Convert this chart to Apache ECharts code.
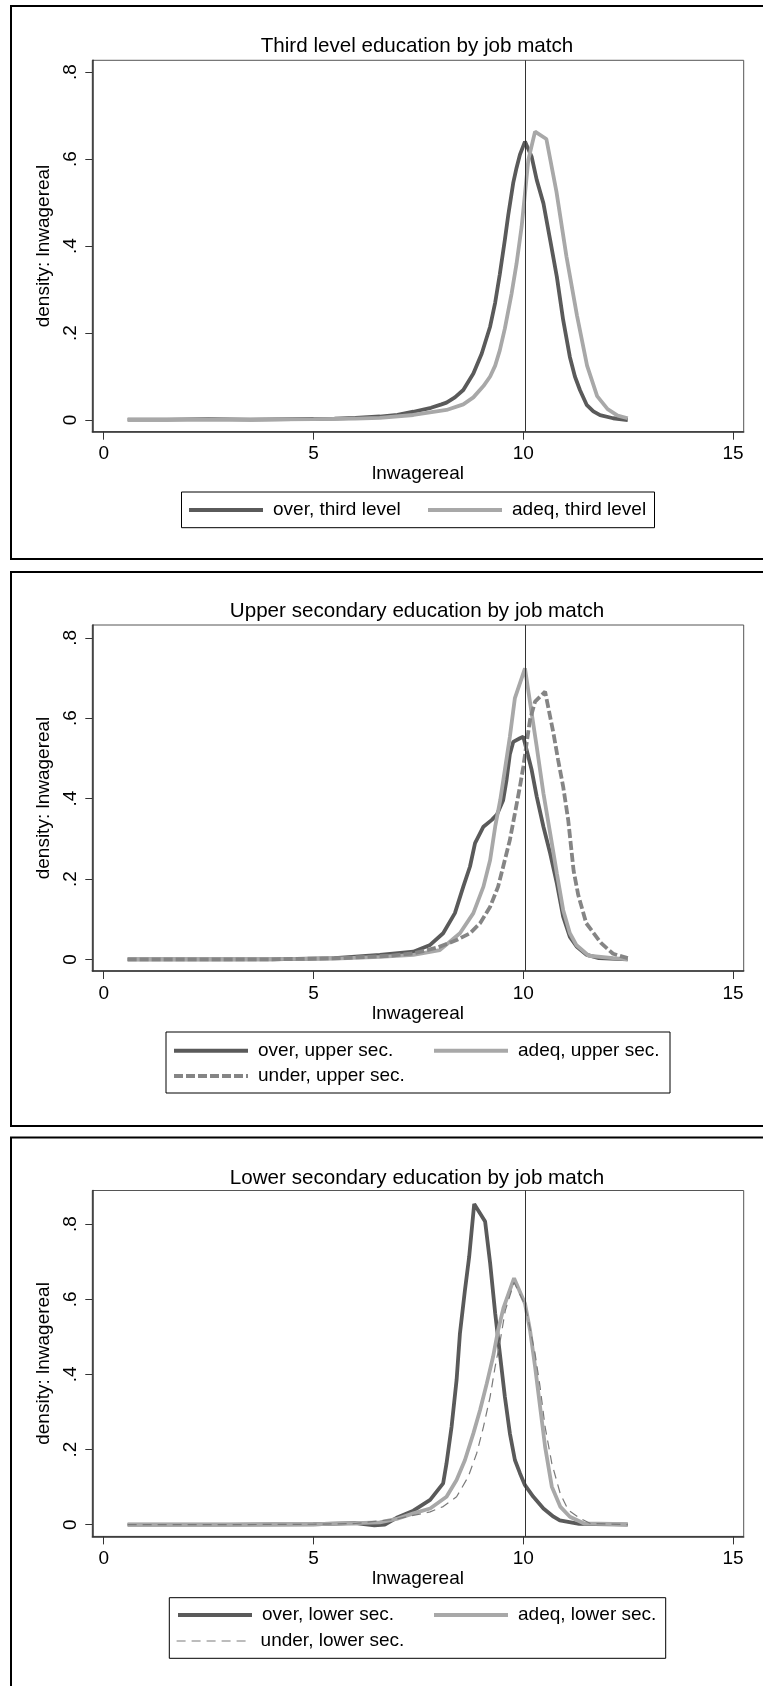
<!DOCTYPE html>
<html>
<head>
<meta charset="utf-8">
<script src="https://cdn.jsdelivr.net/npm/echarts@6.0.0/dist/echarts.min.js"></script>
<style>
html,body{margin:0;padding:0;background:#fff;}
#chartDiv{width:763px;height:1686px;}
</style>
</head>
<body>
<div id="chartDiv"></div>
<script>
var xTicks = [0, 5, 10, 15];
var yTicks = [0, 0.2, 0.4, 0.6, 0.8];
var refLine = 10.05;   // vertical line

// Third level
var overThirdX = [0.57, 1.5, 2.5, 3.5, 4.5, 5.5, 6.0, 6.58, 7.0, 7.38, 7.8, 8.05, 8.17, 8.37, 8.57, 8.81, 9.01, 9.21, 9.33, 9.44, 9.56, 9.64, 9.76, 9.84, 9.92, 10.04, 10.2, 10.32, 10.48, 10.64, 10.8, 10.95, 11.11, 11.23, 11.35, 11.51, 11.67, 11.83, 12.14, 12.49];
var overThirdY = [0.001, 0.001, 0.002, 0.001, 0.002, 0.003, 0.005, 0.008, 0.012, 0.019, 0.028, 0.036, 0.04, 0.052, 0.069, 0.107, 0.153, 0.215, 0.27, 0.335, 0.414, 0.47, 0.545, 0.58, 0.61, 0.64, 0.605, 0.552, 0.498, 0.414, 0.329, 0.23, 0.145, 0.1, 0.069, 0.035, 0.02, 0.011, 0.004, 0.0];
var adeqThirdX = [0.57, 2.0, 3.5, 5.0, 6.0, 6.58, 7.38, 8.17, 8.57, 8.81, 9.05, 9.21, 9.33, 9.44, 9.56, 9.72, 9.84, 9.96, 10.04, 10.12, 10.28, 10.55, 10.79, 11.03, 11.28, 11.52, 11.76, 12.01, 12.25, 12.49];
var adeqThirdY = [0.001, 0.001, 0.001, 0.002, 0.003, 0.005, 0.0115, 0.023, 0.036, 0.052, 0.078, 0.1, 0.125, 0.16, 0.21, 0.29, 0.36, 0.444, 0.52, 0.598, 0.663, 0.646, 0.525, 0.375, 0.24, 0.125, 0.055, 0.025, 0.01, 0.004];

// Upper secondary
var overUpperX = [0.57, 2.0, 4.0, 5.5, 6.58, 7.38, 7.78, 8.09, 8.37, 8.57, 8.73, 8.85, 9.05, 9.25, 9.37, 9.52, 9.6, 9.68, 9.76, 9.92, 10.0, 10.08, 10.2, 10.32, 10.48, 10.64, 10.8, 10.95, 11.11, 11.27, 11.5, 11.8, 12.49];
var overUpperY = [0.0, 0.0, 0.0, 0.003, 0.011, 0.019, 0.036, 0.065, 0.115, 0.181, 0.231, 0.289, 0.33, 0.347, 0.36, 0.396, 0.446, 0.51, 0.541, 0.55, 0.554, 0.521, 0.471, 0.405, 0.33, 0.264, 0.189, 0.106, 0.056, 0.032, 0.012, 0.003, 0.0];
var adeqUpperX = [0.57, 3.0, 5.5, 6.58, 7.38, 8.01, 8.49, 8.81, 9.05, 9.21, 9.33, 9.45, 9.56, 9.68, 9.8, 10.04, 10.2, 10.32, 10.48, 10.64, 10.8, 10.95, 11.11, 11.27, 11.56, 12.14, 12.49];
var adeqUpperY = [0.0, 0.0, 0.002, 0.006, 0.011, 0.023, 0.065, 0.115, 0.181, 0.247, 0.33, 0.396, 0.471, 0.554, 0.65, 0.724, 0.612, 0.529, 0.413, 0.314, 0.214, 0.123, 0.065, 0.035, 0.009, 0.003, 0.0];
var underUpperX = [0.57, 4.0, 5.65, 6.81, 7.39, 7.97, 8.41, 8.73, 8.97, 9.21, 9.4, 9.56, 9.68, 9.8, 9.92, 10.0, 10.08, 10.16, 10.28, 10.52, 10.72, 10.83, 10.95, 11.07, 11.2, 11.31, 11.5, 11.85, 12.14, 12.49];
var underUpperY = [0.0, 0.0, 0.003, 0.009, 0.015, 0.03, 0.048, 0.065, 0.09, 0.131, 0.181, 0.247, 0.297, 0.363, 0.43, 0.479, 0.538, 0.596, 0.641, 0.666, 0.562, 0.496, 0.43, 0.347, 0.22, 0.16, 0.09, 0.041, 0.014, 0.003];

// Lower secondary
var overLowerX = [0.57, 3.0, 5.0, 6.0, 6.45, 6.7, 6.98, 7.38, 7.78, 8.09, 8.17, 8.29, 8.41, 8.49, 8.61, 8.71, 8.83, 9.09, 9.21, 9.33, 9.45, 9.56, 9.68, 9.8, 9.92, 10.04, 10.24, 10.48, 10.72, 10.87, 11.33, 12.49];
var overLowerY = [0.0, 0.0, 0.001, 0.004, -0.002, 0.0, 0.018, 0.037, 0.066, 0.11, 0.163, 0.26, 0.385, 0.509, 0.625, 0.713, 0.854, 0.807, 0.696, 0.563, 0.447, 0.341, 0.243, 0.172, 0.137, 0.105, 0.074, 0.043, 0.021, 0.011, 0.002, 0.0];
var adeqLowerX = [0.57, 3.0, 5.0, 6.0, 6.58, 6.98, 7.38, 7.78, 8.17, 8.41, 8.61, 8.81, 8.97, 9.13, 9.28, 9.4, 9.53, 9.78, 10.04, 10.16, 10.28, 10.4, 10.52, 10.68, 10.88, 11.11, 11.45, 12.49];
var adeqLowerY = [0.0, 0.0, 0.001, 0.004, 0.006, 0.015, 0.03, 0.043, 0.074, 0.119, 0.172, 0.243, 0.305, 0.376, 0.447, 0.518, 0.578, 0.656, 0.589, 0.518, 0.421, 0.314, 0.207, 0.101, 0.048, 0.021, 0.003, 0.001];
var underLowerX = [0.57, 3.0, 5.0, 6.0, 6.98, 7.78, 8.09, 8.41, 8.69, 8.89, 9.05, 9.21, 9.33, 9.45, 9.57, 9.78, 10.04, 10.12, 10.28, 10.4, 10.52, 10.68, 10.88, 11.07, 11.35, 11.6, 12.49];
var underLowerY = [0.0, 0.0, 0.001, 0.003, 0.015, 0.034, 0.048, 0.074, 0.128, 0.19, 0.26, 0.341, 0.421, 0.49, 0.57, 0.645, 0.585, 0.545, 0.456, 0.367, 0.26, 0.163, 0.083, 0.039, 0.017, 0.003, 0.0];

var FONT = '"Liberation Sans", Arial, Helvetica, sans-serif';
var cOver = '#5a5a5a', cAdeq = '#a8a8a8', cUnder = '#858585';

var pairs = function(xs, ys){
    var out = [];
    for (var i = 0; i < xs.length; i++) out.push([xs[i], ys[i]]);
    return out;
};

var panels = [
    {title: 'Third level education by job match', frame: [6, 559], titleTop: 36.2, grid: [60.3, 431.7], y: [-0.0269, 0.8269],
     box: [181.5, 492, 473, 35.7], rows: [510], cols: [187, 426],
     series: [
        {name: 'over, third level', xs: overThirdX, ys: overThirdY, color: cOver, width: 3.8, type: 'solid', col: 0, row: 0},
        {name: 'adeq, third level', xs: adeqThirdX, ys: adeqThirdY, color: cAdeq, width: 3.8, type: 'solid', col: 1, row: 0}
     ]},
    {title: 'Upper secondary education by job match', frame: [572, 1126], titleTop: 601.2, grid: [625, 971], y: [-0.0289, 0.8318],
     box: [166, 1032, 504, 61], rows: [1050.7, 1076], cols: [172, 432],
     series: [
        {name: 'over, upper sec.', xs: overUpperX, ys: overUpperY, color: cOver, width: 3.8, type: 'solid', col: 0, row: 0},
        {name: 'adeq, upper sec.', xs: adeqUpperX, ys: adeqUpperY, color: cAdeq, width: 3.8, type: 'solid', col: 1, row: 0},
        {name: 'under, upper sec.', xs: underUpperX, ys: underUpperY, color: cUnder, width: 3.8, type: [9, 3], col: 0, row: 1}
     ]},
    {title: 'Lower secondary education by job match', frame: [1137.5, 1720], titleTop: 1167.8, grid: [1190.5, 1536.4], y: [-0.0314, 0.8897],
     box: [169.3, 1597.7, 496.4, 60.6], rows: [1615, 1641], cols: [176, 432],
     series: [
        {name: 'over, lower sec.', xs: overLowerX, ys: overLowerY, color: cOver, width: 3.8, type: 'solid', col: 0, row: 0},
        {name: 'adeq, lower sec.', xs: adeqLowerX, ys: adeqLowerY, color: cAdeq, width: 3.8, type: 'solid', col: 1, row: 0},
        {name: 'under, lower sec.', xs: underLowerX, ys: underLowerY, color: '#7a7a7a', width: 1.2, type: [9, 6], col: 0, row: 1}
     ]}
];

var yFmt = function(v){
    if (Math.abs(v) < 1e-9) return '0';
    return String(+v.toFixed(1)).replace(/^0\./, '.');
};

var option = {
    animation: false,
    backgroundColor: '#fff',
    title: [], grid: [], xAxis: [], yAxis: [], legend: [], series: [],
    graphic: []
};

panels.forEach(function(p, i){
    option.graphic.push({type: 'rect', silent: true, z: 0,
        shape: {x: 11, y: p.frame[0], width: 800, height: p.frame[1] - p.frame[0]},
        style: {fill: 'none', stroke: '#000', lineWidth: 2}});
    option.graphic.push({type: 'rect', silent: true, z: 0,
        shape: {x: p.box[0], y: p.box[1], width: p.box[2], height: p.box[3]},
        style: {fill: 'none', stroke: '#000', lineWidth: 1}});

    option.title.push({
        text: p.title, left: 417, top: p.titleTop, textAlign: 'center', textVerticalAlign: 'top', padding: 0,
        textStyle: {fontSize: 20.6, fontWeight: 'normal', color: '#000', fontFamily: FONT}
    });
    option.grid.push({
        left: 92.3, width: 651.4, top: p.grid[0], height: p.grid[1] - p.grid[0],
        show: true, borderColor: '#555', borderWidth: 1, containLabel: false, outerBoundsMode: 'none'
    });
    option.xAxis.push({
        type: 'value', gridIndex: i, min: -0.272, max: 15.253,
        axisLine: {onZero: false, lineStyle: {color: '#333', width: 1.5}},
        axisTick: {length: 8, customValues: xTicks, lineStyle: {color: '#333'}},
        axisLabel: {customValues: xTicks, margin: 13, fontSize: 19, color: '#000', fontFamily: FONT},
        splitLine: {show: false},
        name: 'lnwagereal', nameLocation: 'middle', nameGap: 30.5,
        nameTextStyle: {fontSize: 19, color: '#000', fontFamily: FONT}
    });
    option.yAxis.push({
        type: 'value', gridIndex: i, min: p.y[0], max: p.y[1], position: 'left',
        axisLine: {show: true, onZero: false, lineStyle: {color: '#333', width: 1.5}},
        axisTick: {show: true, length: 7, customValues: yTicks, lineStyle: {color: '#333'}},
        axisLabel: {customValues: yTicks, rotate: 90, margin: 12, fontSize: 19, color: '#000', fontFamily: FONT, formatter: yFmt},
        splitLine: {show: false},
        name: 'density: lnwagereal', nameLocation: 'middle', nameGap: 32, nameRotate: 90,
        nameTextStyle: {fontSize: 19, color: '#000', fontFamily: FONT}
    });

    p.series.forEach(function(s, k){
        var ser = {
            name: s.name, type: 'line', xAxisIndex: i, yAxisIndex: i,
            data: pairs(s.xs, s.ys), symbol: 'none', smooth: false,
            lineStyle: {color: s.color, width: s.width, type: s.type},
            itemStyle: {color: s.color}, z: 2 + k
        };
        if (k === 0) {
            ser.markLine = {
                silent: true, symbol: ['none', 'none'], label: {show: false},
                lineStyle: {color: '#333', width: 1, type: 'solid'},
                data: [{xAxis: refLine}]
            };
        }
        option.series.push(ser);
        option.legend.push({
            data: [s.name], left: p.cols[s.col], top: p.rows[s.row] - 9.5,
            padding: 0, itemWidth: 74, itemHeight: 14, selectedMode: false,
            itemStyle: {opacity: 0},
            lineStyle: {width: s.width >= 2 ? 4 : 1.2},
            textStyle: {fontSize: 19, color: '#000', fontFamily: FONT, padding: [0, 0, 0, 5]}
        });
    });
});

var myChart = echarts.init(document.getElementById('chartDiv'));
myChart.setOption(option);
</script>
</body>
</html>
